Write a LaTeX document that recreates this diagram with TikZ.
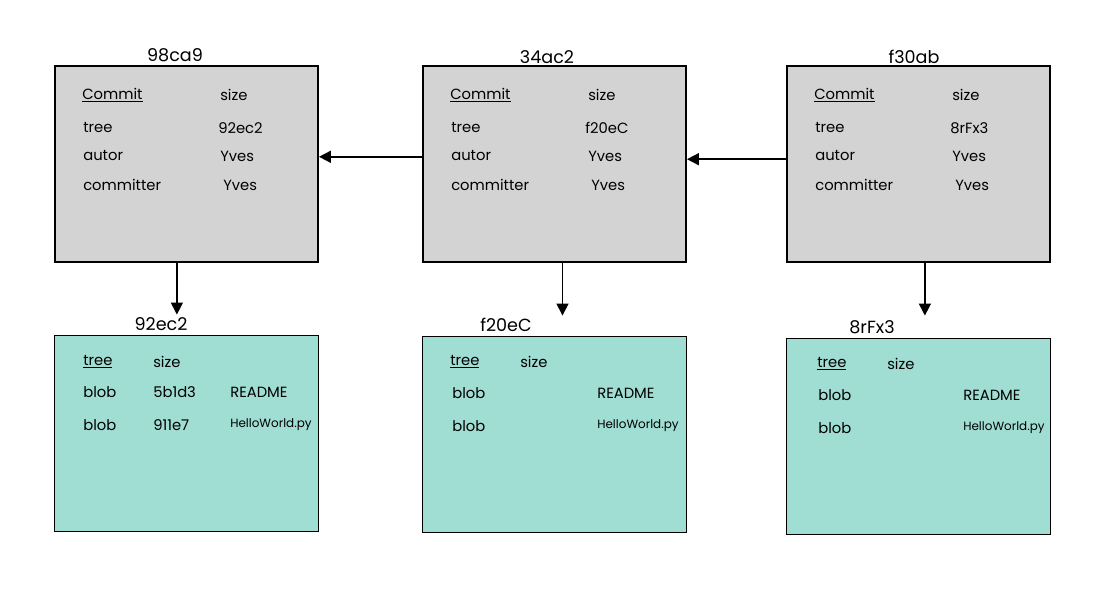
\documentclass[tikz,border=0pt]{standalone}
\usepackage{fontspec}
\setmainfont{Poppins}
\usetikzlibrary{arrows.meta}
\definecolor{commitgray}{RGB}{211,211,211}
\definecolor{treeteal}{RGB}{160,221,211}

\begin{document}
\begin{tikzpicture}[x=0.025cm,y=-0.025cm,
	commitbox/.style={draw,line width=1.3pt,fill=commitgray,minimum width=6.575cm,minimum height=4.9cm,inner sep=0pt},
	treebox/.style={draw,line width=1.3pt,fill=treeteal,minimum width=6.6cm,minimum height=4.9cm,inner sep=0pt},
	txt/.style={anchor=west,inner sep=0pt,font=\fontsize{10.5}{12}\selectfont},
	fname/.style={anchor=west,inner sep=0pt,font=\fontsize{8.5}{10}\selectfont},
	hash/.style={inner sep=0pt,font=\fontsize{12.5}{14}\selectfont},
	arr/.style={line width=1.1pt,-{Triangle[length=0.3cm,width=0.3cm]}}]
\useasboundingbox[fill=white] (0,0) rectangle (1119,591);

% commit objects
\node[commitbox] (c1) at (186.5,164) {};
\node[commitbox] (c2) at (554.5,164) {};
\node[commitbox] (c3) at (918.5,164) {};
\node[hash] (c1h) at (175,55) {98ca9};
\node[hash] (c2h) at (547,57) {34ac2};
\node[hash] (c3h) at (914,57) {f30ab};

% tree objects
\node[treebox] (t1) at (186.5,433.5) {};
\node[treebox] (t2) at (554.5,434.5) {};
\node[treebox] (t3) at (918.5,436.5) {};
\node[hash] (t1h) at (161,324) {92ec2};
\node[hash] (t2h) at (506,325) {f20eC};
\node[hash] (t3h) at (872,327) {8rFx3};

% commit 98ca9
\node[txt] (c1a) at (82,95) {\underline{Commit}};
\node[txt] (c1b) at (220,95) {size};
\node[txt] (c1c) at (83,128) {tree};
\node[txt] (c1d) at (218,128) {92ec2};
\node[txt] (c1e) at (83,156) {autor};
\node[txt] (c1f) at (220,156) {Yves};
\node[txt] (c1g) at (83,185) {committer};
\node[txt] (c1k) at (223,185) {Yves};
% commit 34ac2
\node[txt] (c2a) at (450,95) {\underline{Commit}};
\node[txt] (c2b) at (588,95) {size};
\node[txt] (c2c) at (451,128) {tree};
\node[txt] (c2d) at (585,128) {f20eC};
\node[txt] (c2e) at (451,156) {autor};
\node[txt] (c2f) at (588,156) {Yves};
\node[txt] (c2g) at (451,185) {committer};
\node[txt] (c2k) at (591,185) {Yves};
% commit f30ab
\node[txt] (c3a) at (814,95) {\underline{Commit}};
\node[txt] (c3b) at (952,95) {size};
\node[txt] (c3c) at (815,128) {tree};
\node[txt] (c3d) at (950,128) {8rFx3};
\node[txt] (c3e) at (815,156) {autor};
\node[txt] (c3f) at (952,156) {Yves};
\node[txt] (c3g) at (815,185) {committer};
\node[txt] (c3k) at (955,185) {Yves};

% tree 92ec2
\node[txt] (t1a) at (83,362) {\underline{tree}};
\node[txt] (t1b) at (153,362) {size};
\node[txt] (t1c) at (83,392) {blob};
\node[txt] (t1d) at (153,392) {5b1d3};
\node[txt] (t1e) at (230,392) {README};
\node[txt] (t1f) at (83,425) {blob};
\node[txt] (t1g) at (153,425) {911e7};
\node[fname] (t1k) at (230,425) {HelloWorld.py};
% tree f20eC
\node[txt] (t2a) at (450,362) {\underline{tree}};
\node[txt] (t2b) at (520,362) {size};
\node[txt] (t2c) at (452,393) {blob};
\node[txt] (t2e) at (597,393) {README};
\node[txt] (t2f) at (452,426) {blob};
\node[fname] (t2k) at (597,426) {HelloWorld.py};
% tree 8rFx3
\node[txt] (t3a) at (817,364) {\underline{tree}};
\node[txt] (t3b) at (887,364) {size};
\node[txt] (t3c) at (818,395) {blob};
\node[txt] (t3e) at (963,395) {README};
\node[txt] (t3f) at (818,428) {blob};
\node[fname] (t3k) at (963,428) {HelloWorld.py};

% parents
\draw[arr] ([yshift=0.18cm]c2.west) -- ([yshift=0.18cm]c1.east);
\draw[arr] ([yshift=0.12cm]c3.west) -- ([yshift=0.12cm]c2.east);
% trees
\draw[arr] ([xshift=-0.24cm]c1.south) -- ([xshift=-0.24cm,yshift=0.5cm]t1.north);
\draw[arr] ([xshift=0.2cm]c2.south) -- ([xshift=0.2cm,yshift=0.5cm]t2.north);
\draw[arr] ([xshift=0.16cm]c3.south) -- ([xshift=0.16cm,yshift=0.55cm]t3.north);
\end{tikzpicture}
\end{document}
